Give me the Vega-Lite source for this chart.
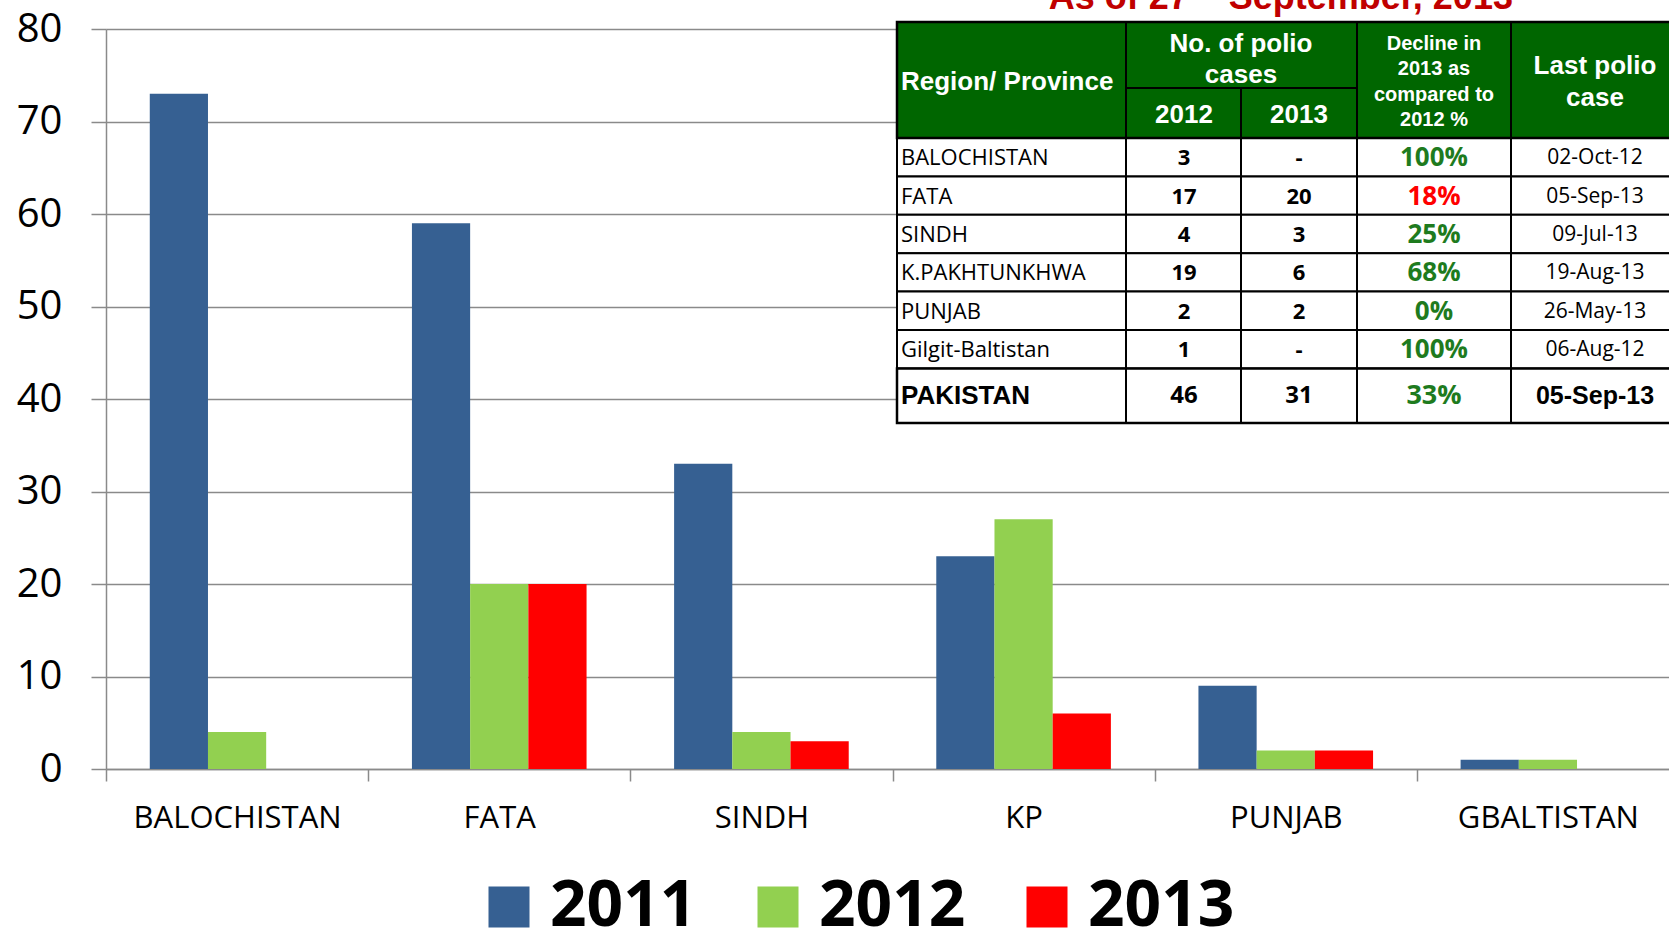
{
  "$schema": "https://vega.github.io/schema/vega-lite/v6.json",
  "width": 1563,
  "height": 740,
  "autosize": "none",
  "padding": {"left": 106, "top": 29, "right": 0, "bottom": 165},
  "background": "white",
  "config": {"view": {"stroke": null}, "font": "Open Sans"},
  "datasets": {
    "cases": [
      {"region": "BALOCHISTAN", "year": "2011", "cases": 73},
      {"region": "BALOCHISTAN", "year": "2012", "cases": 4},
      {"region": "BALOCHISTAN", "year": "2013", "cases": 0},
      {"region": "FATA", "year": "2011", "cases": 59},
      {"region": "FATA", "year": "2012", "cases": 20},
      {"region": "FATA", "year": "2013", "cases": 20},
      {"region": "SINDH", "year": "2011", "cases": 33},
      {"region": "SINDH", "year": "2012", "cases": 4},
      {"region": "SINDH", "year": "2013", "cases": 3},
      {"region": "KP", "year": "2011", "cases": 23},
      {"region": "KP", "year": "2012", "cases": 27},
      {"region": "KP", "year": "2013", "cases": 6},
      {"region": "PUNJAB", "year": "2011", "cases": 9},
      {"region": "PUNJAB", "year": "2012", "cases": 2},
      {"region": "PUNJAB", "year": "2013", "cases": 2},
      {"region": "GBALTISTAN", "year": "2011", "cases": 1},
      {"region": "GBALTISTAN", "year": "2012", "cases": 1},
      {"region": "GBALTISTAN", "year": "2013", "cases": 0}
    ],
    "table": [
      {"region": "BALOCHISTAN", "c2012": "3", "c2013": "-", "decline": "100%", "last": "02-Oct-12"},
      {"region": "FATA", "c2012": "17", "c2013": "20", "decline": "18%", "last": "05-Sep-13"},
      {"region": "SINDH", "c2012": "4", "c2013": "3", "decline": "25%", "last": "09-Jul-13"},
      {"region": "K.PAKHTUNKHWA", "c2012": "19", "c2013": "6", "decline": "68%", "last": "19-Aug-13"},
      {"region": "PUNJAB", "c2012": "2", "c2013": "2", "decline": "0%", "last": "26-May-13"},
      {"region": "Gilgit-Baltistan", "c2012": "1", "c2013": "-", "decline": "100%", "last": "06-Aug-12"}
    ],
    "total": [
      {"region": "PAKISTAN", "c2012": "46", "c2013": "31", "decline": "33%", "last": "05-Sep-13"}
    ],
    "header": [
      {"key": "title1", "label": "As of 27"},
      {"key": "title2", "label": "th"},
      {"key": "title3", "label": "September, 2013"},
      {"key": "region", "label": "Region/ Province"},
      {"key": "cases", "label": "No. of polio\ncases"},
      {"key": "y2012", "label": "2012"},
      {"key": "y2013", "label": "2013"},
      {"key": "decline", "label": "Decline in\n2013 as\ncompared to\n2012 %"},
      {"key": "last", "label": "Last polio\ncase"}
    ]
  },
  "layer": [
    {
      "layer": [
        {
          "data": {"name": "cases"},
          "mark": {"type": "bar"},
          "encoding": {
            "x": {
              "field": "region", "type": "nominal",
              "sort": ["BALOCHISTAN", "FATA", "SINDH", "KP", "PUNJAB", "GBALTISTAN"],
              "scale": {"range": [0, 1573], "paddingInner": 0, "paddingOuter": 0},
              "axis": {
                "title": null, "labelAngle": 0, "tickBand": "extent",
                "tickSize": 12, "tickWidth": 1.5, "tickColor": "#8a8a8a",
                "domainColor": "#8a8a8a", "domainWidth": 1.5,
                "labelFont": "Open Sans", "labelFontSize": 31, "labelColor": "#000000",
                "labelPadding": 22, "grid": false, "labelLimit": 400
              }
            },
            "xOffset": {
              "field": "year", "type": "nominal",
              "scale": {"paddingInner": 0, "paddingOuter": 0.752}
            },
            "y": {
              "field": "cases", "type": "quantitative",
              "scale": {"domain": [0, 80], "nice": false},
              "axis": {
                "title": null, "values": [0, 10, 20, 30, 40, 50, 60, 70, 80],
                "tickSize": 15, "tickWidth": 1.5, "tickColor": "#8a8a8a",
                "domainColor": "#8a8a8a", "domainWidth": 1.5,
                "gridColor": "#8a8a8a", "gridWidth": 1.5,
                "labelFont": "Open Sans", "labelFontSize": 40, "labelColor": "#000000",
                "labelPadding": 29
              }
            },
            "color": {
              "field": "year", "type": "nominal",
              "scale": {"domain": ["2011", "2012", "2013"], "range": ["#366092", "#92D050", "#FF0000"]},
              "legend": {
                "title": null, "orient": "none", "direction": "horizontal",
                "legendX": 371, "legendY": 846,
                "symbolType": "square", "symbolSize": 1681, "symbolStrokeWidth": 0,
                "labelFont": "Open Sans", "labelFontSize": 64, "labelFontWeight": "bold",
                "labelColor": "#000000", "labelOffset": 9, "columnPadding": 49,
                "labelLimit": 400
              }
            }
          }
        },
        {
          "data": {"name": "header"},
          "transform": [{"filter": "datum.key === 'title1'"}],
          "mark": {"type": "text", "align": "right", "baseline": "alphabetic", "dx": -97, "font": "Liberation Sans", "fontSize": 36, "fontWeight": "bold", "color": "#C00000"},
          "encoding": {
            "x": {"datum": "PUNJAB", "type": "nominal"},
            "y": {"datum": 82.2, "type": "quantitative"},
            "text": {"field": "label"}
          }
        },
        {
          "data": {"name": "header"},
          "transform": [{"filter": "datum.key === 'title2'"}],
          "mark": {"type": "text", "align": "left", "baseline": "alphabetic", "dx": -95, "dy": -15, "font": "Liberation Sans", "fontSize": 22, "fontWeight": "bold", "color": "#C00000"},
          "encoding": {
            "x": {"datum": "PUNJAB", "type": "nominal"},
            "y": {"datum": 82.2, "type": "quantitative"},
            "text": {"field": "label"}
          }
        },
        {
          "data": {"name": "header"},
          "transform": [{"filter": "datum.key === 'title3'"}],
          "mark": {"type": "text", "align": "left", "baseline": "alphabetic", "dx": -57, "font": "Liberation Sans", "fontSize": 36, "fontWeight": "bold", "color": "#C00000"},
          "encoding": {
            "x": {"datum": "PUNJAB", "type": "nominal"},
            "y": {"datum": 82.2, "type": "quantitative"},
            "text": {"field": "label"}
          }
        }
      ]
    },
    {
      "data": {"name": "table"},
      "encoding": {
        "y": {
          "field": "region", "type": "nominal", "sort": null, "axis": null,
          "scale": {"domain": ["BALOCHISTAN", "FATA", "SINDH", "K.PAKHTUNKHWA", "PUNJAB", "Gilgit-Baltistan"], "range": [109, 339.4], "paddingInner": 0, "paddingOuter": 0}
        }
      },
      "layer": [
        {
          "mark": {"type": "rect", "fill": "white", "stroke": "black", "strokeWidth": 2},
          "encoding": {
            "x": {"datum": 0, "type": "quantitative", "axis": null, "scale": {"domain": [0, 782], "range": [791, 1573], "nice": false, "zero": false}},
            "x2": {"datum": 782}
          }
        },
        {
          "mark": {"type": "text", "align": "left", "baseline": "middle", "dy": 1, "font": "Open Sans", "fontSize": 22, "color": "black"},
          "encoding": {"x": {"datum": 4, "type": "quantitative", "axis": null}, "text": {"field": "region"}}
        },
        {
          "mark": {"type": "text", "align": "center", "baseline": "middle", "dy": 1, "font": "Open Sans", "fontSize": 22, "fontWeight": "bold", "color": "black"},
          "encoding": {"x": {"datum": 287, "type": "quantitative", "axis": null}, "text": {"field": "c2012"}}
        },
        {
          "mark": {"type": "text", "align": "center", "baseline": "middle", "dy": 1, "font": "Open Sans", "fontSize": 22, "fontWeight": "bold", "color": "black"},
          "encoding": {"x": {"datum": 402, "type": "quantitative", "axis": null}, "text": {"field": "c2013"}}
        },
        {
          "mark": {"type": "text", "align": "center", "baseline": "middle", "dy": 1, "font": "Open Sans", "fontSize": 26, "fontWeight": "bold"},
          "encoding": {
            "x": {"datum": 537, "type": "quantitative", "axis": null},
            "text": {"field": "decline"},
            "color": {"condition": {"test": "datum.decline === '18%'", "value": "#FF0000"}, "value": "#1E7B1E"}
          }
        },
        {
          "mark": {"type": "text", "align": "center", "baseline": "middle", "dy": 1, "font": "Open Sans", "fontSize": 21, "color": "black"},
          "encoding": {"x": {"datum": 698, "type": "quantitative", "axis": null}, "text": {"field": "last"}}
        }
      ]
    },
    {
      "data": {"name": "total"},
      "encoding": {
        "y": {
          "field": "region", "type": "nominal", "axis": null,
          "scale": {"domain": ["PAKISTAN"], "range": [339.4, 394], "paddingInner": 0, "paddingOuter": 0}
        }
      },
      "layer": [
        {
          "mark": {"type": "rect", "fill": "white", "stroke": "black", "strokeWidth": 2.5},
          "encoding": {
            "x": {"datum": 0, "type": "quantitative", "axis": null, "scale": {"domain": [0, 782], "range": [791, 1573], "nice": false, "zero": false}},
            "x2": {"datum": 782}
          }
        },
        {
          "mark": {"type": "text", "align": "left", "baseline": "middle", "font": "Liberation Sans", "fontSize": 26, "fontWeight": "bold", "color": "black"},
          "encoding": {"x": {"datum": 4, "type": "quantitative", "axis": null}, "text": {"field": "region"}}
        },
        {
          "mark": {"type": "text", "align": "center", "baseline": "middle", "font": "Open Sans", "fontSize": 24, "fontWeight": "bold", "color": "black"},
          "encoding": {"x": {"datum": 287, "type": "quantitative", "axis": null}, "text": {"field": "c2012"}}
        },
        {
          "mark": {"type": "text", "align": "center", "baseline": "middle", "font": "Open Sans", "fontSize": 24, "fontWeight": "bold", "color": "black"},
          "encoding": {"x": {"datum": 402, "type": "quantitative", "axis": null}, "text": {"field": "c2013"}}
        },
        {
          "mark": {"type": "text", "align": "center", "baseline": "middle", "font": "Open Sans", "fontSize": 27, "fontWeight": "bold", "color": "#1E7B1E"},
          "encoding": {"x": {"datum": 537, "type": "quantitative", "axis": null}, "text": {"field": "decline"}}
        },
        {
          "mark": {"type": "text", "align": "center", "baseline": "middle", "font": "Liberation Sans", "fontSize": 25, "fontWeight": "bold", "color": "black"},
          "encoding": {"x": {"datum": 698, "type": "quantitative", "axis": null}, "text": {"field": "last"}}
        }
      ]
    },
    {
      "data": {"name": "header"},
      "layer": [
        {
          "data": {"values": [{}]},
          "mark": {"type": "rect", "fill": "#006600", "stroke": "black", "strokeWidth": 2.5},
          "encoding": {
            "x": {"datum": 0, "type": "quantitative", "axis": null, "scale": {"domain": [0, 782], "range": [791, 1573], "nice": false, "zero": false}},
            "x2": {"datum": 782},
            "y": {"datum": 0, "type": "quantitative", "axis": null, "scale": {"domain": [0, 401], "range": [-7, 394], "nice": false, "zero": false}},
            "y2": {"datum": 116}
          }
        },
        {
          "data": {"values": [{}]},
          "mark": {"type": "rule", "color": "black", "strokeWidth": 2},
          "encoding": {"x": {"datum": 229, "type": "quantitative", "axis": null}, "y": {"datum": 0, "type": "quantitative", "axis": null}, "y2": {"datum": 401}}
        },
        {
          "data": {"values": [{}]},
          "mark": {"type": "rule", "color": "black", "strokeWidth": 2},
          "encoding": {"x": {"datum": 344, "type": "quantitative", "axis": null}, "y": {"datum": 66, "type": "quantitative", "axis": null}, "y2": {"datum": 401}}
        },
        {
          "data": {"values": [{}]},
          "mark": {"type": "rule", "color": "black", "strokeWidth": 2},
          "encoding": {"x": {"datum": 460, "type": "quantitative", "axis": null}, "y": {"datum": 0, "type": "quantitative", "axis": null}, "y2": {"datum": 401}}
        },
        {
          "data": {"values": [{}]},
          "mark": {"type": "rule", "color": "black", "strokeWidth": 2},
          "encoding": {"x": {"datum": 614, "type": "quantitative", "axis": null}, "y": {"datum": 0, "type": "quantitative", "axis": null}, "y2": {"datum": 401}}
        },
        {
          "data": {"values": [{}]},
          "mark": {"type": "rule", "color": "black", "strokeWidth": 2},
          "encoding": {"x": {"datum": 229, "type": "quantitative", "axis": null}, "x2": {"datum": 460}, "y": {"datum": 66, "type": "quantitative", "axis": null}}
        },
        {
          "transform": [{"filter": "datum.key === 'region'"}],
          "mark": {"type": "text", "align": "left", "baseline": "middle", "font": "Liberation Sans", "fontSize": 26, "fontWeight": "bold", "color": "white"},
          "encoding": {"x": {"datum": 4, "type": "quantitative", "axis": null}, "y": {"datum": 60, "type": "quantitative", "axis": null}, "text": {"field": "label"}}
        },
        {
          "transform": [{"filter": "datum.key === 'cases'"}],
          "mark": {"type": "text", "align": "center", "baseline": "middle", "font": "Liberation Sans", "fontSize": 26, "fontWeight": "bold", "color": "white", "lineBreak": "\n", "lineHeight": 31},
          "encoding": {"x": {"datum": 344, "type": "quantitative", "axis": null}, "y": {"datum": 21.5, "type": "quantitative", "axis": null}, "text": {"field": "label"}}
        },
        {
          "transform": [{"filter": "datum.key === 'y2012'"}],
          "mark": {"type": "text", "align": "center", "baseline": "middle", "font": "Liberation Sans", "fontSize": 26, "fontWeight": "bold", "color": "white"},
          "encoding": {"x": {"datum": 287, "type": "quantitative", "axis": null}, "y": {"datum": 93, "type": "quantitative", "axis": null}, "text": {"field": "label"}}
        },
        {
          "transform": [{"filter": "datum.key === 'y2013'"}],
          "mark": {"type": "text", "align": "center", "baseline": "middle", "font": "Liberation Sans", "fontSize": 26, "fontWeight": "bold", "color": "white"},
          "encoding": {"x": {"datum": 402, "type": "quantitative", "axis": null}, "y": {"datum": 93, "type": "quantitative", "axis": null}, "text": {"field": "label"}}
        },
        {
          "transform": [{"filter": "datum.key === 'decline'"}],
          "mark": {"type": "text", "align": "center", "baseline": "middle", "font": "Liberation Sans", "fontSize": 20, "fontWeight": "bold", "color": "white", "lineBreak": "\n", "lineHeight": 25.5},
          "encoding": {"x": {"datum": 537, "type": "quantitative", "axis": null}, "y": {"datum": 21.5, "type": "quantitative", "axis": null}, "text": {"field": "label"}}
        },
        {
          "transform": [{"filter": "datum.key === 'last'"}],
          "mark": {"type": "text", "align": "center", "baseline": "middle", "font": "Liberation Sans", "fontSize": 26, "fontWeight": "bold", "color": "white", "lineBreak": "\n", "lineHeight": 32},
          "encoding": {"x": {"datum": 698, "type": "quantitative", "axis": null}, "y": {"datum": 44, "type": "quantitative", "axis": null}, "text": {"field": "label"}}
        }
      ]
    }
  ],
  "resolve": {"scale": {"x": "independent", "y": "independent", "color": "independent"}}
}
